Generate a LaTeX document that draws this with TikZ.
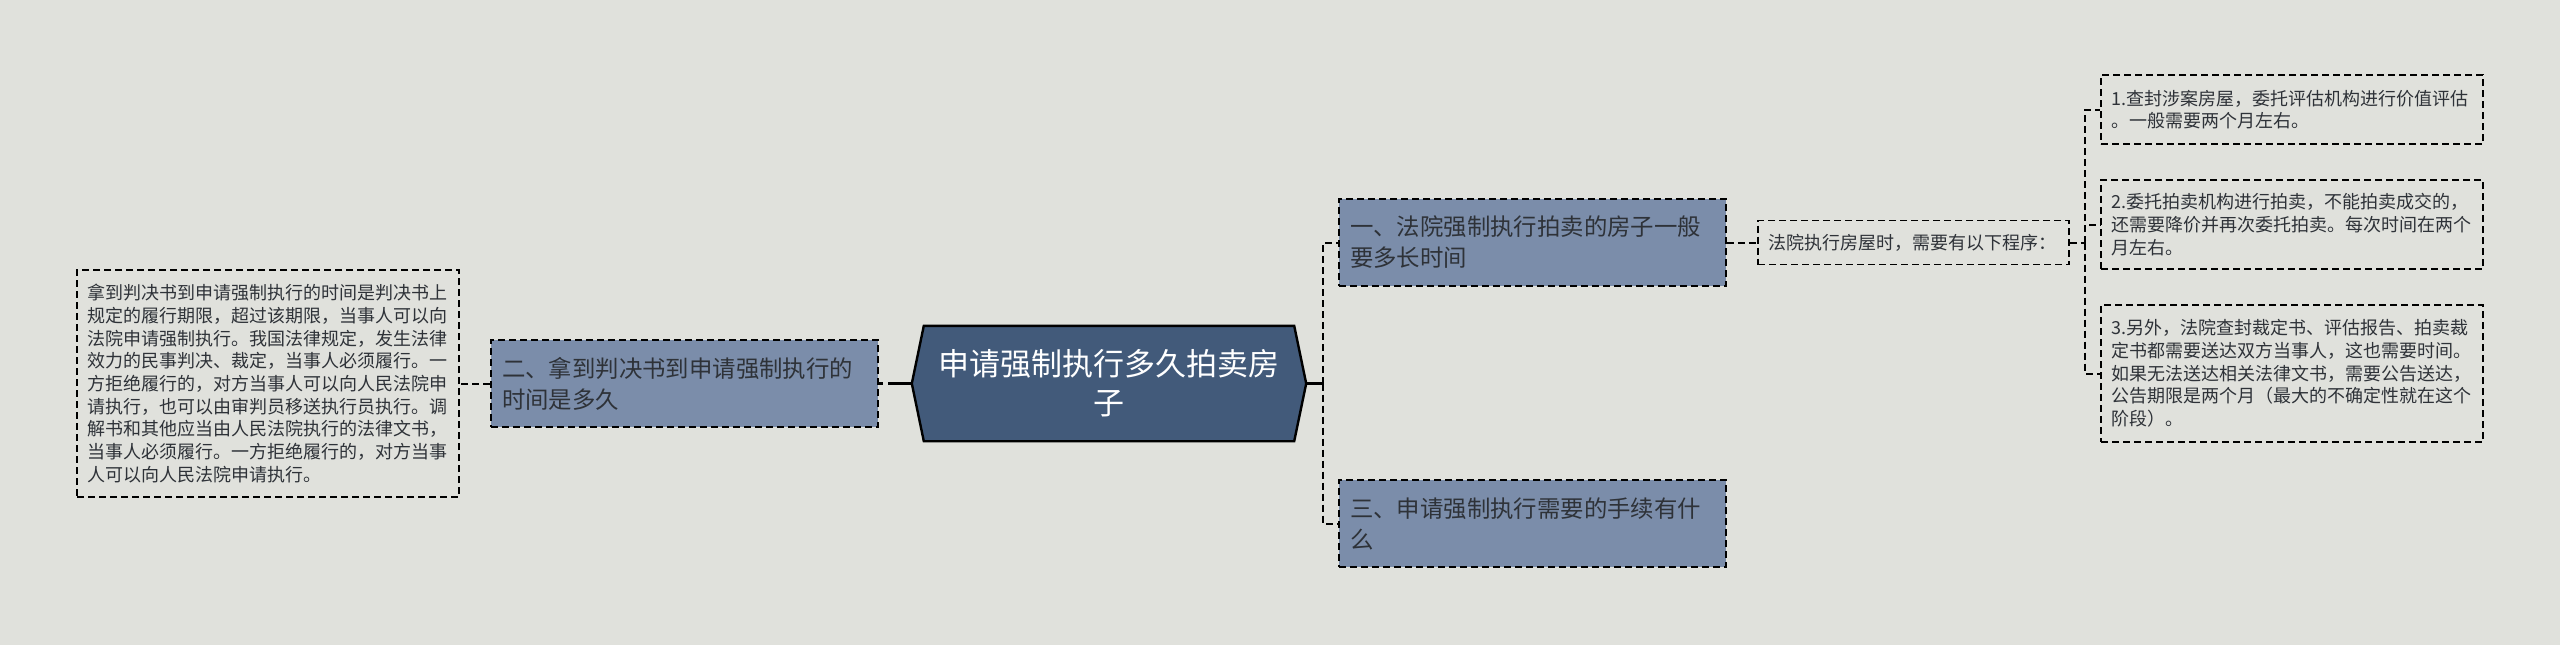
\documentclass[tikz,border=0pt]{standalone}
\usepackage{fontspec}
\setmainfont{Noto Sans CJK SC}
\usetikzlibrary{backgrounds}
\definecolor{bg}{HTML}{E0E1DC}
\definecolor{hexfill}{HTML}{425A7A}
\definecolor{boxfill}{HTML}{7B8DAA}
\definecolor{txt}{HTML}{2E3238}
\begin{document}
\begin{tikzpicture}[x=1pt,y=-1pt,
  dashline/.style={draw=black, line width=2pt, dash pattern=on 7pt off 4pt},
  subbox/.style={dashline, line width=1.7pt, fill=boxfill, text=txt, align=left, inner xsep=11pt, inner ysep=0pt,
    minimum width=387pt, text width=365pt, minimum height=87pt, font=\fontsize{23.4}{31}\selectfont},
  notebox/.style={dashline, line width=1.6pt, text=txt, align=left, inner xsep=10pt, inner ysep=0pt,
    font=\fontsize{18}{22.7}\selectfont},
  hexbox/.style={text=white, align=center, inner sep=0pt, minimum width=394pt, minimum height=115pt,
    text width=370pt, font=\fontsize{31}{39}\selectfont},
  hexdraw/.style={draw=black, line width=2.4pt, fill=hexfill, line join=miter},
  solidlink/.style={draw=black, line width=2.2pt}]
\useasboundingbox (0,0) rectangle (2560,645);

\node[notebox, text width=362pt, minimum height=227pt] (L) at (268,383.5)
{拿到判决书到申请强制执行的时间是判决书上\\
规定的履行期限，超过该期限，当事人可以向\\
法院申请强制执行。我国法律规定，发生法律\\
效力的民事判决、裁定，当事人必须履行。一\\
方拒绝履行的，对方当事人可以向人民法院申\\
请执行，也可以由审判员移送执行员执行。调\\
解书和其他应当由人民法院执行的法律文书，\\
当事人必须履行。一方拒绝履行的，对方当事\\
人可以向人民法院申请执行。};

\node[subbox] (B2) at (684.5,383.5) {二、拿到判决书到申请强制执行的\\时间是多久};

\node[hexbox] (H) at (1109,383.5) {申请强制执行多久拍卖房\\子};

\node[subbox] (B1) at (1532.5,242.5) {一、法院强制执行拍卖的房子一般\\要多长时间};
\node[subbox] (B3) at (1532.5,523.5) {三、申请强制执行需要的手续有什\\么};

\node[notebox, text width=291pt, minimum height=44pt] (P) at (1913.5,242.5) {法院执行房屋时，需要有以下程序：};

\node[notebox, text width=362pt, minimum height=69pt] (N1) at (2292,109.5)
{1.查封涉案房屋，委托评估机构进行价值评估\\。一般需要两个月左右。};
\node[notebox, text width=362pt, minimum height=89pt] (N2) at (2292,224.5)
{2.委托拍卖机构进行拍卖，不能拍卖成交的，\\还需要降价并再次委托拍卖。每次时间在两个\\月左右。};
\node[notebox, text width=362pt, minimum height=137pt] (N3) at (2292,373.5)
{3.另外，法院查封裁定书、评估报告、拍卖裁\\定书都需要送达双方当事人，这也需要时间。\\如果无法送达相关法律文书，需要公告送达，\\公告期限是两个月（最大的不确定性就在这个\\阶段）。};

\begin{scope}[on background layer]
  \fill[bg] (0,0) rectangle (2560,645);
  \path[hexdraw] ([xshift=12pt]H.north west) -- ([xshift=-12pt]H.north east) -- (H.east)
    -- ([xshift=-12pt]H.south east) -- ([xshift=12pt]H.south west) -- (H.west) -- cycle;
\end{scope}

\draw[solidlink, dash pattern=on 24pt off 5pt on 6pt off 60pt] (H.west) -- (B2.east);
\draw[dashline] (B2.west) -- (L.east);

\coordinate (R) at (1323,383.5);
\draw[solidlink] (H.east) -- (R);
\draw[dashline] (R) |- (B1.west);
\draw[dashline] (R) |- (B3.west);

\draw[dashline] (B1.east) -- (P.west);
\coordinate (S) at (2085,242.5);
\draw[dashline] (P.east) -- (S);
\draw[dashline] (S) |- (N1.west);
\draw[dashline] (S) |- (N2.west);
\draw[dashline] (S) |- (N3.west);
\end{tikzpicture}
\end{document}
